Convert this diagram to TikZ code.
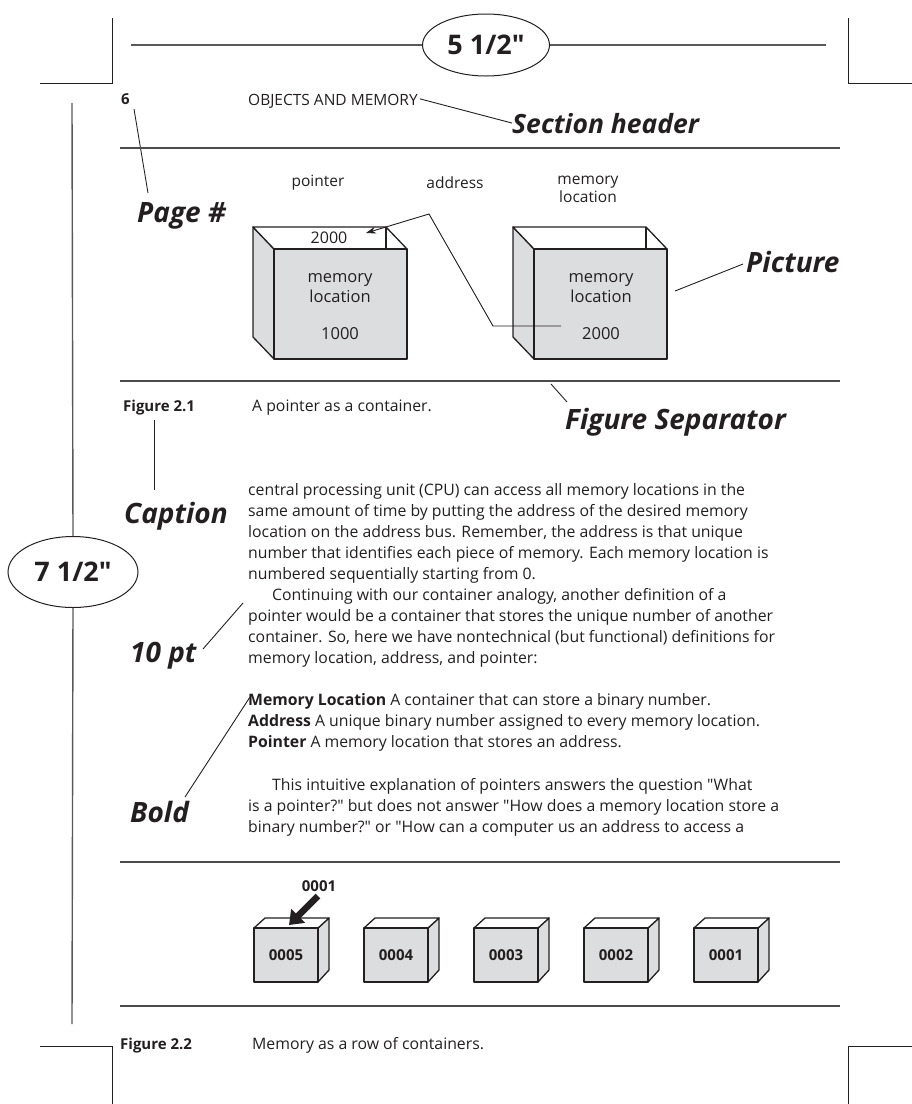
\documentclass[tikz,border=0pt]{standalone}
\usepackage{fontspec}
\setmainfont{Open Sans}[Ligatures=TeXOff]
\usetikzlibrary{arrows.meta,shapes.geometric}
\definecolor{boxgray}{HTML}{DCDDDF}
\definecolor{ink}{HTML}{231F20}
\begin{document}
\begin{tikzpicture}[x=1pt,y=-1pt,
  rule/.style={draw=black!70,line width=1.6pt},
  leader/.style={draw=ink,line width=0.9pt},
  dimline/.style={draw=black!65,line width=1.4pt},
  edge/.style={draw=ink,line width=1.3pt,line join=round},
  callout/.style={font=\fontsize{28}{32}\selectfont\bfseries\itshape,text=ink,inner sep=0pt,anchor=base west},
  body/.style={font=\fontsize{15.8}{21}\selectfont,text=ink,inner sep=0pt,anchor=base west},
  small/.style={font=\fontsize{15.5}{19}\selectfont,text=ink,inner sep=0pt},
  inbox/.style={font=\fontsize{16.5}{20}\selectfont,text=ink,inner sep=0pt,align=center},
  bbold/.style={font=\fontsize{15}{18}\selectfont\bfseries,text=ink,inner sep=0pt},
  dim/.style={draw=ink,line width=1pt,ellipse,font=\fontsize{27}{30}\selectfont\bfseries,text=ink,inner sep=0pt}
]
\useasboundingbox (0,0) rectangle (912,1104);

% ---------- crop marks ----------
\draw[leader] (112,18) -- (112,83) -- (40,83);
\draw[leader] (848,18) -- (848,83) -- (912,83);
\draw[leader] (40,1046) -- (112,1046) -- (112,1104);
\draw[leader] (912,1046) -- (848,1046) -- (848,1104);

% ---------- page dimensions ----------
\node[dim,minimum width=127pt,minimum height=62pt] (w) at (486,45) {5 1/2"};
\coordinate (wl) at (131,45);
\coordinate (wr) at (826,45);
\draw[dimline] (wl) -- (w.west);
\draw[dimline] (w.east) -- (wr);

\node[dim,minimum width=130pt,minimum height=71pt] (h) at (73,572) {7 1/2"};
\coordinate (ht) at (72,103);
\coordinate (hb) at (72,1024);
\draw[dimline] (ht) -- (h.north);
\draw[dimline] (h.south) -- (hb);

% ---------- running head ----------
\node[bbold,anchor=base west] (pg) at (121,104) {6};
\node[small,anchor=base west] (head) at (248,105) {OBJECTS AND MEMORY};
\node[callout,font=\fontsize{26.5}{30}\selectfont\bfseries\itshape] (sec) at (512,133) {Section header};
\draw[leader] (head.east) ++(2,-2) coordinate (hd) (hd) -- (sec.west);
\node[callout] (pgl) at (137,222) {Page \#};
\coordinate (pga) at (134,109);
\coordinate (pgb) at (148,193);
\draw[leader] (pga) -- (pgb);

\draw[rule] (120,148) -- (840,148);

% ---------- Figure 2.1 ----------
\node[small] (lp) at (318,183) {pointer};
\node[small] (la) at (455,183) {address};
\node[small,align=center,font=\fontsize{15.5}{18}\selectfont] (lm) at (588,189) {memory\\location};

% container holding the pointer
\begin{scope}[shift={(253,227)}]
  \filldraw[edge,fill=boxgray] (0,0) -- (21,22) -- (21,132) -- (0,110) -- cycle;
  \filldraw[edge,fill=white] (0,0) -- (133,0) -- (154,22) -- (21,22) -- cycle;
  \draw[edge] (133,0) -- (133,22);
  \filldraw[edge,fill=boxgray] (21,22) rectangle (154,132);
\end{scope}
% container at address 2000
\begin{scope}[shift={(513,227)}]
  \filldraw[edge,fill=boxgray] (0,0) -- (21,22) -- (21,132) -- (0,110) -- cycle;
  \filldraw[edge,fill=white] (0,0) -- (133,0) -- (154,22) -- (21,22) -- cycle;
  \draw[edge] (133,0) -- (133,22);
  \filldraw[edge,fill=boxgray] (21,22) rectangle (154,132);
\end{scope}

\node[small,font=\fontsize{16}{19}\selectfont] (pv) at (329,238) {2000};
\node[inbox] (m1) at (340,288) {memory\\location};
\node[inbox] (n1) at (340,334) {1000};
\node[inbox] (m2) at (601,288) {memory\\location};
\node[inbox] (n2) at (601,334) {2000};

\coordinate (src) at (561,326);
\coordinate (k1) at (493,326);
\coordinate (k2) at (429,214);
\coordinate (tip) at (366,233);
\draw[leader,-{Stealth[length=10pt,width=7pt]}] (src) -- (k1) -- (k2) -- (tip);

\node[callout] (pic) at (746,272) {Picture};
\coordinate (pica) at (675,291);
\coordinate (picb) at (743,264);
\draw[leader] (pica) -- (picb);

\draw[rule] (120,381) -- (840,381);
\coordinate (sepa) at (551,384);
\coordinate (sepb) at (567,402);
\draw[leader] (sepa) -- (sepb);
\node[callout] (sep) at (565,429) {Figure Separator};

\node[bbold,anchor=base west] (f1) at (123,411) {Figure 2.1};
\node[body] (c1) at (252,411) {A pointer as a container.};

\node[callout] (cap) at (124,523) {Caption};
\draw[leader] (f1.south west) ++(31,5) coordinate (capa) (capa) -- (154,490) coordinate (capb);

% ---------- body text ----------
\node[body] (l1)  at (248,495) {central processing unit (CPU) can access all memory locations in the};
\node[body] (l2)  at (248,516) {same amount of time by putting the address of the desired memory};
\node[body] (l3)  at (248,537) {location on the address bus. Remember, the address is that unique};
\node[body] (l4)  at (248,558) {number that identifies each piece of memory. Each memory location is};
\node[body] (l5)  at (248,579) {numbered sequentially starting from 0.};
\node[body] (l6)  at (272,600) {Continuing with our container analogy, another definition of a};
\node[body] (l7)  at (248,621) {pointer would be a container that stores the unique number of another};
\node[body] (l8)  at (248,642) {container. So, here we have nontechnical (but functional) definitions for};
\node[body] (l9)  at (248,663) {memory location, address, and pointer:};
\node[body] (l10) at (248,705) {\textbf{Memory Location} A container that can store a binary number.};
\node[body] (l11) at (248,726) {\textbf{Address} A unique binary number assigned to every memory location.};
\node[body] (l12) at (248,747) {\textbf{Pointer} A memory location that stores an address.};
\node[body] (l13) at (272,790) {This intuitive explanation of pointers answers the question "What};
\node[body] (l14) at (248,811) {is a pointer?" but does not answer "How does a memory location store a};
\node[body] (l15) at (248,832) {binary number?" or "How can a computer us an address to access a};

\node[callout] (tenpt) at (130,662) {10 pt};
\coordinate (tpa) at (203,649);
\coordinate (tpb) at (243,603);
\draw[leader] (tpa) -- (tpb);

\node[callout] (bold) at (130,822) {Bold};
\coordinate (bda) at (185,797);
\coordinate (bdb) at (250,697);
\draw[leader] (bda) -- (bdb);

% ---------- Figure 2.2 ----------
\draw[rule] (120,862) -- (840,862);

\foreach \x/\v in {254/0005,364/0004,474/0003,584/0002,694/0001}{
  \begin{scope}[shift={(\x,928)}]
    \filldraw[edge,fill=boxgray] (64,0) -- (75,-10) -- (75,42) -- (64,54) -- cycle;
    \filldraw[edge,fill=white] (0,0) -- (11,-10) -- (75,-10) -- (64,0) -- cycle;
    \filldraw[edge,fill=boxgray] (0,0) rectangle (64,54);
    \node[bbold] (b\v) at (32,27) {\v};
  \end{scope}
}

\node[bbold] (ptr) at (319,886) {0001};
\coordinate (pt) at (318,896);
\coordinate (ph) at (289,925);
\draw[draw=ink,line width=6.5pt,-{Triangle[length=13pt,width=19pt]}] (pt) -- (ph);

\draw[rule] (120,1006) -- (840,1006);

\node[bbold,anchor=base west] (f2) at (120,1049) {Figure 2.2};
\node[body] (c2) at (252,1049) {Memory as a row of containers.};
\end{tikzpicture}
\end{document}
